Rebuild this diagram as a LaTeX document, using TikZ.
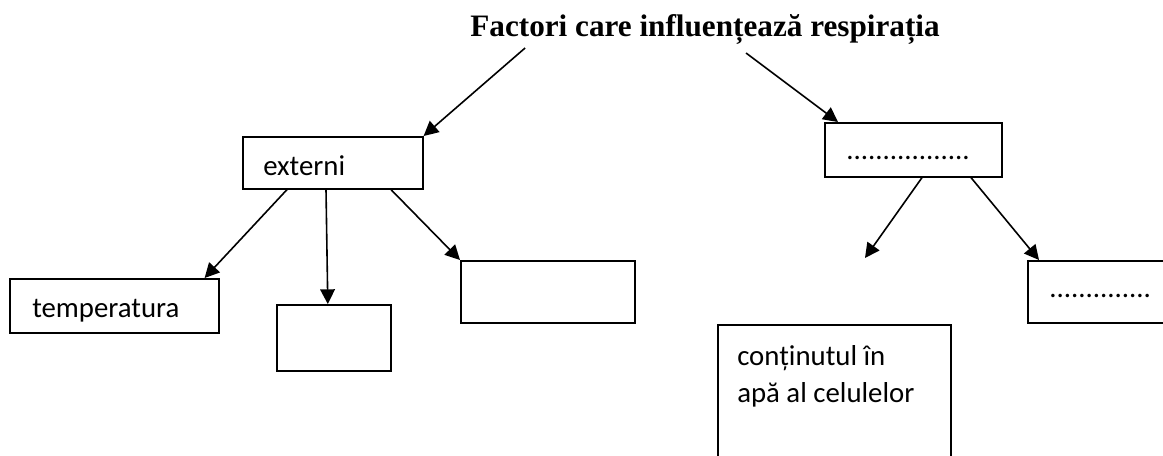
\documentclass[tikz,border=0pt]{standalone}
\usepackage{fontspec}
\setmainfont{Liberation Serif}
\newfontfamily\bodyfont{Carlito}
\usetikzlibrary{arrows.meta,calc}

\begin{document}
\begin{tikzpicture}[x=0.75pt,y=-0.75pt,
    box/.style={draw, line width=1.2pt, inner sep=0pt, anchor=north west},
    label/.style={inner sep=0pt, anchor=base west, align=left,
                  font=\bodyfont\fontsize{21.6}{27.75}\selectfont},
    arr/.style={line width=1.2pt, -{Triangle[length=11pt,width=11pt]}}]
  \useasboundingbox (0,0) rectangle (1163,455);
  \clip (0,0) rectangle (1163,455);

  % heading
  \node[inner sep=0pt, anchor=base, font=\bfseries\fontsize{23.4}{28}\selectfont]
    (title) at (705,36) {Factori care influențează respirația};

  % left branch
  \node[box, minimum width=180*0.75pt, minimum height=52*0.75pt] (ext) at (242,136) {};
  \node[label] (extt) at (263,175) {externi};
  \node[box, minimum width=209*0.75pt, minimum height=54*0.75pt] (temp) at (9,278) {};
  \node[label] (tempt) at (32,317) {temperatura};
  \node[box, minimum width=114*0.75pt, minimum height=66*0.75pt] (mid) at (276,304) {};
  \node[box, minimum width=174*0.75pt, minimum height=62*0.75pt] (wide) at (460,260) {};

  % right branch
  \node[box, minimum width=177*0.75pt, minimum height=54*0.75pt] (intr) at (824,122) {};
  \node[label] (intrt) at (846,159) {.................};
  \node[box, minimum width=160*0.75pt, minimum height=62*0.75pt] (far) at (1027,260) {};
  \node[label] (fart) at (1049,297) {..............};
  \node[box, minimum width=233*0.75pt, minimum height=160*0.75pt] (water) at (717,324) {};
  % two-line label: its base is the baseline of the second line
  \node[label] (watert) at (737,402) {conținutul în\\apă al celulelor};
  \coordinate (gap) at (865,258);

  % connectors
  \draw[arr] ($(title.base west)+(55,12)$) -- (ext.north east);
  \draw[arr] ($(title.base west)+(276,17)$) -- ($(intr.north west)+(14,0)$);
  \draw[arr] ($(ext.south west)+(45,0)$) -- ($(temp.north east)+(-15,0)$);
  \draw[arr] ($(ext.south west)+(84,0)$) -- ($(mid.north)+(-6,0)$);
  \draw[arr] ($(ext.south west)+(149,0)$) -- (wide.north west);
  \draw[arr] ($(intr.south west)+(98,0)$) -- (gap);
  \draw[arr] ($(intr.south west)+(147,0)$) -- ($(far.north west)+(12,0)$);
\end{tikzpicture}
\end{document}
